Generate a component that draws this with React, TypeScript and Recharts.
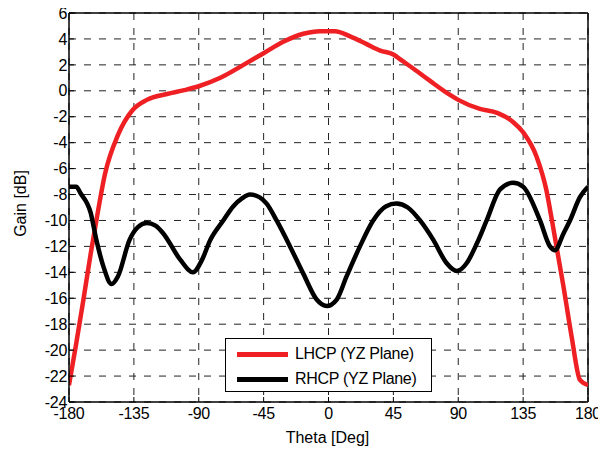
import React from 'react';
import { LineChart, Line, XAxis, YAxis, CartesianGrid, ReferenceLine } from 'recharts';

const thetaL = [-180, -175, -170, -165, -161, -155, -146, -136, -126, -112, -100, -90, -75, -59, -45, -31, -17.5, -6, 4.5, 15, 26.5, 36, 45, 50, 59, 70, 84, 90, 105, 117, 128, 135, 144.4, 151, 155, 163, 168.7, 174.4, 180];
const lhcp = [-22.7, -19.5, -16.1, -12.6, -10.0, -6.4, -3.4, -1.5, -0.7, -0.25, 0.05, 0.35, 1.0, 2.0, 2.9, 3.8, 4.4, 4.6, 4.6, 4.2, 3.6, 3.1, 2.8, 2.4, 1.7, 0.8, -0.3, -0.7, -1.4, -1.7, -2.4, -3.2, -5.1, -7.6, -10.0, -15.1, -19.0, -22.3, -22.7];

const thetaR = [-180, -175, -172, -165, -161, -156, -150.5, -146, -138, -132, -126, -120, -114.6, -103, -94, -88, -82, -73, -66, -60, -54.5, -48, -42.9, -36, -26.7, -17.5, -8.2, -1.3, 5.7, 12.6, 21.8, 31, 40, 47, 55, 63.5, 72.7, 82, 89, 95.8, 102.8, 109.7, 119, 128, 135, 146.7, 153.6, 157, 163, 167.5, 174.4, 180];
const rhcp = [-7.4, -7.4, -7.9, -9.4, -11.5, -13.6, -14.9, -14.3, -11.5, -10.5, -10.2, -10.4, -11.0, -13.0, -14.0, -13.1, -11.5, -10.0, -8.9, -8.3, -8.0, -8.2, -8.7, -10.0, -12.0, -14.1, -16.1, -16.6, -16.1, -14.3, -12.0, -10.0, -8.9, -8.7, -9.0, -10.0, -11.5, -13.3, -13.9, -13.3, -11.8, -10.0, -7.6, -7.1, -7.4, -10.0, -12.0, -12.3, -11.0, -10.0, -8.2, -7.4];

const xTicks = [-180, -135, -90, -45, 0, 45, 90, 135, 180];
const yTicks = [-24, -22, -20, -18, -16, -14, -12, -10, -8, -6, -4, -2, 0, 2, 4, 6];

const seriesNames = ['LHCP (YZ Plane)', 'RHCP (YZ Plane)'];
const seriesColors = ['#ee2024', '#000000'];

const lData = thetaL.map((t, i) => ({ t, v: lhcp[i] }));
const rData = thetaR.map((t, i) => ({ t, v: rhcp[i] }));

const FONT = '"Liberation Sans", Arial, sans-serif';

const LegendBox = () => (
  <div
    style={{
      position: 'absolute',
      left: 217,
      top: 334,
      width: 205,
      height: 52,
      border: '1px solid #000',
      background: '#fff',
      fontFamily: FONT,
      fontSize: 16,
      color: '#000',
    }}
  >
    {seriesNames.map((n, i) => (
      <div key={n} style={{ position: 'absolute', left: 0, top: i === 0 ? 4 : 29, height: 22, display: 'flex', alignItems: 'center' }}>
        <div style={{ marginLeft: 11, width: 51, height: 5, background: seriesColors[i] }} />
        <span style={{ marginLeft: 7, whiteSpace: 'nowrap', letterSpacing: -0.3 }}>{n}</span>
      </div>
    ))}
  </div>
);

const YLabel = (props: any) => {
  const vb = props.viewBox || {};
  const cx = 12;
  const cy = (vb.y ?? 9) + (vb.height ?? 389) / 2 - 4;
  return (
    <text x={cx} y={cy} transform={`rotate(-90, ${cx}, ${cy})`} textAnchor="middle" dominantBaseline="central" fontFamily={FONT} fontSize={16} fill="#000">
      Gain [dB]
    </text>
  );
};

const XLabel = (props: any) => {
  const vb = props.viewBox || {};
  const cx = (vb.x ?? 61) + (vb.width ?? 519) / 2 - 1;
  return (
    <text x={cx} y={439} textAnchor="middle" fontFamily={FONT} fontSize={16} fill="#000">
      Theta [Deg]
    </text>
  );
};

export default function App() {
  return (
    <div style={{ position: 'relative', top: -4, width: 592, height: 446 }}>
      <LineChart width={592} height={446} margin={{ top: 9, right: 12, left: 0, bottom: 0 }}>
        <CartesianGrid stroke="#222" strokeDasharray="7 8" strokeWidth={1} />
        <XAxis
          dataKey="t"
          type="number"
          domain={[-180, 180]}
          ticks={xTicks}
          interval={0}
          allowDataOverflow
          height={48}
          axisLine={{ stroke: '#000', strokeWidth: 1.5 }}
          tickLine={{ stroke: '#000' }}
          tickSize={-5}
          tickMargin={11}
          tick={{ fontFamily: FONT, fontSize: 16, fill: '#000', letterSpacing: -0.3 }}
          label={<XLabel />}
        />
        <YAxis
          type="number"
          domain={[-24, 6]}
          ticks={yTicks}
          interval={0}
          allowDataOverflow
          width={61}
          axisLine={{ stroke: '#000', strokeWidth: 1.5 }}
          tickLine={{ stroke: '#000' }}
          tickSize={-5}
          tickMargin={7}
          tick={{ fontFamily: FONT, fontSize: 16, fill: '#000', letterSpacing: -0.3 }}
          label={<YLabel />}
        />
        <ReferenceLine y={6} stroke="#000" strokeWidth={1.5} />
        <ReferenceLine x={180} stroke="#000" strokeWidth={1.5} />
        <Line data={lData} dataKey="v" name={seriesNames[0]} type="monotone" stroke={seriesColors[0]} strokeWidth={4.5} dot={false} isAnimationActive={false} />
        <Line data={rData} dataKey="v" name={seriesNames[1]} type="monotone" stroke={seriesColors[1]} strokeWidth={4.5} dot={false} isAnimationActive={false} />
      </LineChart>
      <LegendBox />
    </div>
  );
}
